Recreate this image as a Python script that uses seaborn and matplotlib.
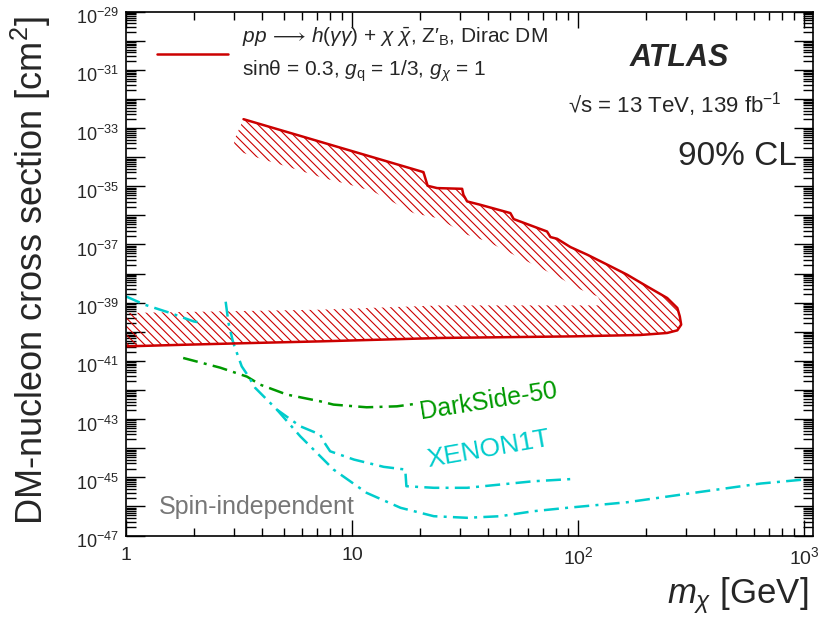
import numpy as np
import pandas as pd
import matplotlib
matplotlib.use("Agg")
import matplotlib.pyplot as plt
import matplotlib.ticker as mticker
import matplotlib.transforms as mtransforms
from matplotlib.lines import Line2D
import seaborn as sns

# ATLAS observed limit contour: lower branch (left -> tip) then upper branch (tip -> left)
lim_mass = [1.0, 1.86, 3.66, 7.23, 24.6, 95.7, 189, 248, 275, 286, 282, 275, 248, 202, 165,
            135, 110, 92.5, 80.8, 75.5, 72.9, 51.9, 50.2, 37.0, 32.3, 31.1, 30.7, 23.8, 21.6, 20.7, 3.31]
lim_xsec = [3.16e-41, 3.61e-41, 4.13e-41, 4.69e-41, 6.14e-41, 6.97e-41, 7.78e-41, 9.12e-41, 1.12e-40,
            1.76e-40, 3.39e-40, 6.58e-40, 1.45e-39, 3.63e-39, 9.14e-39, 2.01e-38, 4.44e-38, 8.17e-38,
            1.57e-37, 1.80e-37, 2.80e-37, 7.46e-37, 1.20e-36, 2.31e-36, 3.02e-36, 5.13e-36, 8.19e-36,
            8.67e-36, 1.04e-35, 3.07e-35, 2.02e-33]

# inner edge of the hatched (excluded side) band
hatch_mass = [3.01, 3.01, 3.99, 5.15, 7.48, 9.82, 12.4, 18.7, 23.8, 32.3, 39.6, 50.2, 61.5, 80.8,
              103, 122, 129, 24.6, 7.23, 1.0]
hatch_xsec = [3.94e-34, 1.79e-34, 8.57e-35, 4.78e-35, 1.91e-35, 1.12e-35, 6.62e-36, 1.20e-36,
              8.08e-37, 2.16e-37, 1.27e-37, 5.08e-38, 2.31e-38, 8.00e-39, 2.79e-39, 1.64e-39,
              8.07e-40, 8.07e-40, 5.75e-40, 4.43e-40]

# DarkSide-50
ds_mass = [1.79, 2.61, 3.43, 3.92, 5.16, 7.23, 8.28, 11.6, 15.8, 19.0]
ds_xsec = [1.26e-41, 5.86e-42, 2.88e-42, 1.53e-42, 6.93e-43, 4.09e-43, 3.15e-43, 2.55e-43, 2.75e-43, 3.33e-43]

# XENON1T curves
xa_mass = [1.0, 1.21, 1.57, 1.99, 2.13]
xa_xsec = [1.64e-39, 8.53e-40, 4.43e-40, 2.28e-40, 2.06e-40]

xb_mass = [2.76, 2.84, 2.98, 3.25, 3.48, 3.73, 4.20, 4.65, 5.90, 7.23, 7.48, 8.00, 10.2, 13.8, 17.2,
           17.4, 23.0, 32.3, 45.3, 63.6, 97.3]
xb_xsec = [1.08e-39, 2.01e-40, 4.24e-41, 6.50e-42, 2.95e-42, 1.18e-42, 4.68e-43, 2.12e-43, 5.67e-44,
           2.94e-44, 1.73e-44, 7.85e-45, 4.07e-45, 2.29e-45, 1.85e-45, 4.94e-46, 4.36e-46, 4.36e-46,
           5.65e-46, 7.33e-46, 8.87e-46]

xc_mass = [4.65, 5.90, 6.99, 8.28, 11.6, 16.4, 23.0, 32.3, 45.3, 63.6, 89.5, 165, 325, 643, 1000]
xc_xsec = [2.12e-43, 2.57e-44, 6.92e-45, 1.85e-45, 2.93e-46, 8.95e-47, 4.61e-47, 4.06e-47, 4.61e-47,
           6.85e-47, 8.95e-47, 1.39e-46, 2.93e-46, 6.11e-46, 8.38e-46]

RED = '#cc0000'
GREEN = '#009900'
CYAN = '#00cccc'

sns.set_theme(style='ticks')
plt.rcParams['font.family'] = ['Liberation Sans', 'DejaVu Sans']
plt.rcParams['mathtext.fontset'] = 'custom'
plt.rcParams['mathtext.rm'] = 'Liberation Sans'
plt.rcParams['mathtext.it'] = 'Liberation Sans:italic'
plt.rcParams['mathtext.bf'] = 'Liberation Sans:bold'
plt.rcParams['mathtext.fallback'] = 'stixsans'
plt.rcParams['hatch.linewidth'] = 0.8

fig = plt.figure(figsize=(8.21, 6.24), dpi=100)
ax = fig.add_axes([0.1535, 0.1418, 0.9903 - 0.1535, 0.9813 - 0.1418])
ax.set_xscale('log')
ax.set_yscale('log')

# hatched excluded band
poly_x = np.concatenate([lim_mass, hatch_mass])
poly_y = np.concatenate([lim_xsec, hatch_xsec])
ax.fill(poly_x, poly_y, facecolor='none', edgecolor=RED, linewidth=0, hatch='\\\\\\\\')

dashdot = (0, (6, 2.5, 1.2, 2.5))
sns.lineplot(x=ds_mass, y=ds_xsec, sort=False, estimator=None, color=GREEN, lw=1.8,
             linestyle=dashdot, ax=ax)
for m, s in [(xa_mass, xa_xsec), (xb_mass, xb_xsec), (xc_mass, xc_xsec)]:
    sns.lineplot(x=m, y=s, sort=False, estimator=None, color=CYAN, lw=1.8,
                 linestyle=dashdot, ax=ax)
sns.lineplot(x=lim_mass, y=lim_xsec, sort=False, estimator=None, color=RED, lw=1.8, ax=ax)

ax.set_xlim(1, 1096)
ax.set_ylim(1e-47, 1e-29)

# ticks, ROOT style
ax.xaxis.set_major_locator(mticker.LogLocator(base=10, numticks=20))
ax.xaxis.set_minor_locator(mticker.LogLocator(base=10, subs=np.arange(2, 10), numticks=20))
ax.yaxis.set_major_locator(mticker.LogLocator(base=10, numticks=40))
ax.yaxis.set_minor_locator(mticker.LogLocator(base=10, subs=np.arange(2, 10), numticks=40))


def xfmt(v, pos):
    e = int(round(np.log10(v)))
    if e == 0:
        return '1'
    if e == 1:
        return '10'
    return r'$10^{%d}$' % e


def yfmt(v, pos):
    e = int(round(np.log10(v)))
    return r'$10^{%d}$' % e if e % 2 else ''


ax.xaxis.set_major_formatter(mticker.FuncFormatter(xfmt))
ax.yaxis.set_major_formatter(mticker.FuncFormatter(yfmt))
ax.xaxis.set_minor_formatter(mticker.NullFormatter())
ax.yaxis.set_minor_formatter(mticker.NullFormatter())
ax.tick_params(which='both', direction='in', top=True, right=True, color='black', width=1.0)
ax.tick_params(axis='x', which='major', length=11.5, labelsize=14, pad=8)
ax.tick_params(axis='x', which='minor', length=6)
ax.tick_params(axis='y', which='major', length=14, labelsize=13, pad=5)
ax.tick_params(axis='y', which='minor', length=7)
for sp in ax.spines.values():
    sp.set_linewidth(1.2)
    sp.set_color('black')

# shift y tick labels down a little so the "10" sits on the tick (like ROOT)
shift = mtransforms.ScaledTranslation(0, -4.5 / 100, fig.dpi_scale_trans)
for t in ax.yaxis.get_major_ticks():
    t.label1.set_transform(t.label1.get_transform() + shift)

ax.set_xlabel(r'$m_{\chi}$ [GeV]', fontsize=25, loc='right')
ax.xaxis.set_label_coords(0.9927, -0.075)
ax.set_ylabel('DM-nucleon cross section [cm$^{2}$]', fontsize=26, loc='top')
ax.yaxis.set_label_coords(-0.106, 0.992)

# legend
leg_label = (r'$pp\,\longrightarrow\,h(\gamma\gamma)$ + $\chi\ \bar{\chi}$, Z$\prime_{\mathrm{B}}$, Dirac DM' + '\n' +
             r'sin$\mathrm{\theta}$ = 0.3, $g_{\mathrm{q}}$ = 1/3, $g_{\chi}$ = 1')
ax.legend(handles=[Line2D([], [], color=RED, lw=1.8)], labels=[leg_label], loc='upper left',
          bbox_to_anchor=(0.045, 0.975), frameon=False, fontsize=15, handlelength=3.4,
          handletextpad=0.7, borderpad=0, borderaxespad=0, labelspacing=0)
plt.setp(ax.get_legend().get_texts(), linespacing=1.6)

ax.text(0.806, 0.912, 'ATLAS', transform=ax.transAxes, fontsize=22, fontweight='bold',
        fontstyle='italic', ha='center', va='center')
ax.text(0.643, 0.822, '\u221as = 13 TeV, 139 fb$^{-1}$', transform=ax.transAxes, fontsize=16,
        ha='left', va='center')
ax.text(0.8035, 0.7226, '90% CL', transform=ax.transAxes, fontsize=24, ha='left', va='center')
ax.text(0.527, 0.257, 'DarkSide-50', transform=ax.transAxes, fontsize=18, color=GREEN,
        rotation=9, ha='center', va='center')
ax.text(0.528, 0.165, 'XENON1T', transform=ax.transAxes, fontsize=19, color=CYAN,
        rotation=10, ha='center', va='center')
ax.text(0.048, 0.055, 'Spin-independent', transform=ax.transAxes, fontsize=18, color='#777777',
        ha='left', va='center')

fig.savefig('out.png', dpi=100)
